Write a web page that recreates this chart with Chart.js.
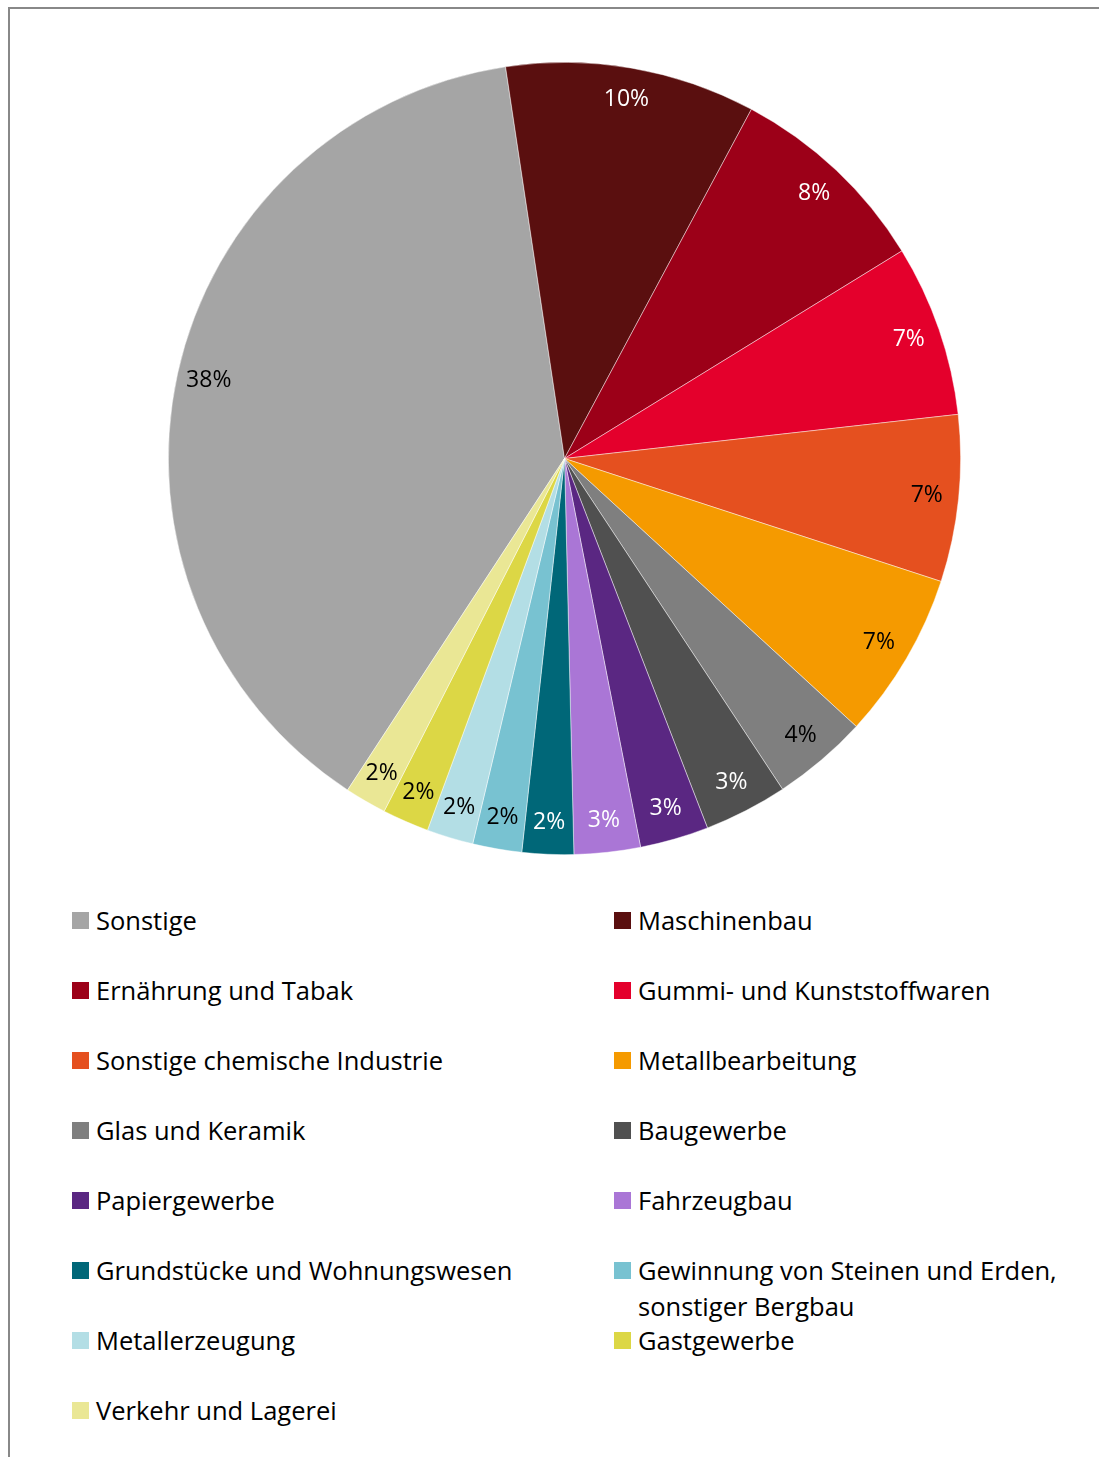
<!DOCTYPE html>
<html>
<head>
<meta charset="utf-8">
<script src="https://cdn.jsdelivr.net/npm/chart.js@4.4.1/dist/chart.umd.min.js"></script>
<style>
    html, body {
        margin: 0;
        padding: 0;
        background: #fff;
    }
    body {
        width: 1099px;
        height: 1457px;
        position: relative;
        overflow: hidden;
        font-family: "Open Sans", sans-serif;
    }
    #frame {
        position: absolute;
        left: 8px;
        top: 7px;
        width: 1200px;
        height: 1600px;
        border-left: 2px solid #888;
        border-top: 2px solid #888;
    }
    #pie-box {
        position: absolute;
        left: 168px;
        top: 62px;
        width: 793px;
        height: 793px;
    }
    #legend {
        position: absolute;
        left: 72px;
        top: 902px;
        display: grid;
        grid-template-columns: 542px 470px;
        grid-auto-rows: 70px;
    }
    .item {
        display: flex;
        align-items: flex-start;
        font-size: 25.5px;
        line-height: 36px;
        color: #000;
    }
    .item .box {
        flex: none;
        width: 17px;
        height: 17px;
        margin-top: 10px;
        margin-right: 7px;
    }
    .item .txt {
        max-width: 440px;
    }
</style>
</head>
<body>
<div id="frame"></div>
<div id="pie-box"><canvas id="pie"></canvas></div>
<div id="legend"></div>

<script>
// branches and their share in percent
var branches = [
    'Sonstige',
    'Maschinenbau',
    'Ernährung und Tabak',
    'Gummi- und Kunststoffwaren',
    'Sonstige chemische Industrie',
    'Metallbearbeitung',
    'Glas und Keramik',
    'Baugewerbe',
    'Papiergewerbe',
    'Fahrzeugbau',
    'Grundstücke und Wohnungswesen',
    'Gewinnung von Steinen und Erden, sonstiger Bergbau',
    'Metallerzeugung',
    'Gastgewerbe',
    'Verkehr und Lagerei'
];
var shares = [38.4, 10.2, 8.4, 7.0, 6.8, 6.8, 3.9, 3.4, 2.8, 2.7, 2.1, 2.0, 1.9, 1.9, 1.7];

// slice colours and the colour of the percent text on each slice
var colors = ['#A5A5A5', '#5A0F0F', '#9C0018', '#E4002C', '#E5501F', '#F59A00', '#7F7F7F', '#505050',
    '#5A2782', '#AA76D6', '#006778', '#78C2D1', '#B3DEE5', '#DCD745', '#EAE795'];
var textColors = ['#000', '#fff', '#fff', '#fff', '#000', '#000', '#000', '#fff',
    '#fff', '#fff', '#fff', '#000', '#000', '#000', '#000'];

// percent labels near the outer edge of each slice
var percentLabels = {
    id: 'percentLabels',
    afterDatasetsDraw: function (chart) {
        var ctx = chart.ctx;
        var meta = chart.getDatasetMeta(0);
        var data = chart.data.datasets[0].data;
        var total = data.reduce(function (a, b) { return a + b; }, 0);
        ctx.save();
        ctx.font = '23px "Open Sans", sans-serif';
        ctx.textAlign = 'center';
        ctx.textBaseline = 'middle';
        meta.data.forEach(function (arc, i) {
            var mid = (arc.startAngle + arc.endAngle) / 2;
            var r = arc.outerRadius - 32;
            var x = arc.x + Math.cos(mid) * r;
            var y = arc.y + Math.sin(mid) * r;
            ctx.fillStyle = textColors[i];
            ctx.fillText(Math.round(data[i] / total * 100) + '%', x, y);
        });
        ctx.restore();
    }
};

var pieChart = new Chart(document.getElementById('pie').getContext('2d'), {
    type: 'pie',
    data: {
        labels: branches,
        datasets: [{
            data: shares,
            backgroundColor: colors,
            borderColor: 'rgba(255, 255, 255, 0.6)',
            borderWidth: 0.75,
            hoverOffset: 0
        }]
    },
    options: {
        responsive: true,
        maintainAspectRatio: false,
        animation: false,
        rotation: 213.2,
        layout: { padding: 0 },
        plugins: {
            legend: { display: false },
            tooltip: { enabled: false }
        }
    },
    plugins: [percentLabels]
});

// two column legend below the pie
var legend = document.getElementById('legend');
branches.forEach(function (name, i) {
    var item = document.createElement('div');
    item.className = 'item';
    var box = document.createElement('span');
    box.className = 'box';
    box.style.background = colors[i];
    var txt = document.createElement('span');
    txt.className = 'txt';
    txt.textContent = name;
    item.appendChild(box);
    item.appendChild(txt);
    legend.appendChild(item);
});
</script>
</body>
</html>
